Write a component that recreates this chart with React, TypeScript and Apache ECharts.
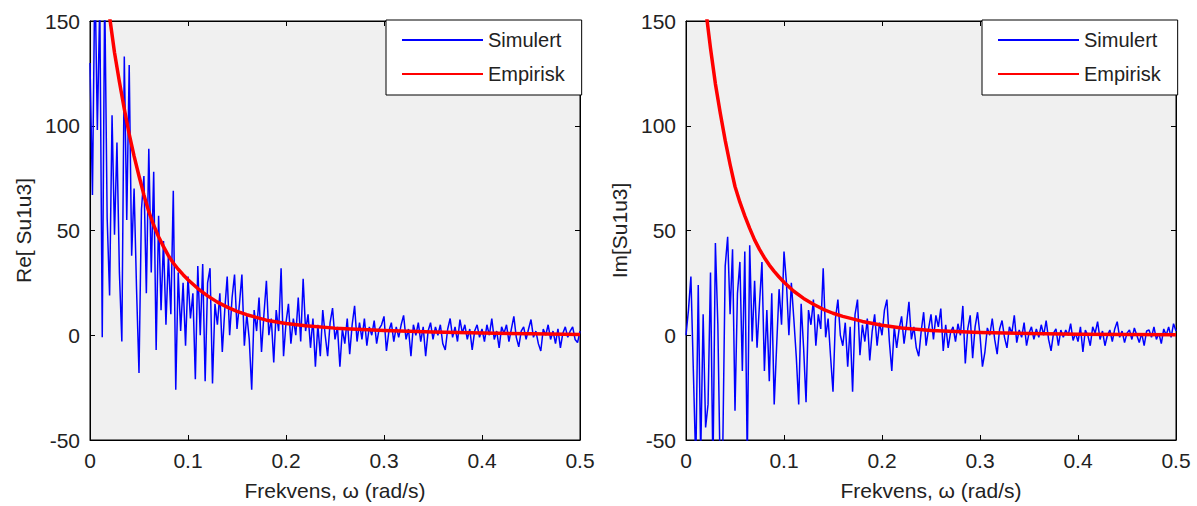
import React, { useEffect, useRef } from 'react';
import * as echarts from 'echarts';

const FONT = '"Liberation Sans", Arial, Helvetica, sans-serif';
const FREQ_STEP = 0.0025;
const seriesNames = ['Simulert', 'Empirisk'];
const yTitles = ['Re[ Su1u3]', 'Im[Su1u3]'];
const xTitle = 'Frekvens, ω (rad/s)';
const xTickLabels = ['0', '0.1', '0.2', '0.3', '0.4', '0.5'];

// Simulated spectrum, real part (sampled every 0.0025 rad/s)
const simRe = [
  130, 67, 175, 98, 160, -1, 165, 56, 19, 105,
  48, 92, 30, -3, 133, 55, 129, 38, 70, 22,
  -18, 60, 76, 20, 89, 30, 78, -7, 57, 12,
  45, 5, 38, 10, 69, -26, 30, 2, 25, -5,
  28, 8, 20, -21, 33, 0, 34, -22, 25, 32,
  -23, 15, 5, 20, -8, 12, 28, 0, 18, 29,
  3, 15, 29, -5, 10, -2, -26, 12, 2, 18,
  -8, 10, 26, 0, 8, -13, 12, 2, 32, -10,
  6, 15, -4, 8, 0, 18, -3, 27, 2, 10,
  -6, 8, -15, 5, -10, 12, 0, -10, 6, 13,
  -2, 4, -15, 3, -4, 8, -9, 5, 14, -3,
  6, -2, 8, -5, 4, 0, 7, -4, 3, 5,
  9, -7.5, 2, 6, -3, 4, -1, 5, 9.5, -2,
  3, -10, 5, 0, 6, -3, 4, -10, 2, 6,
  -2, 4, 0, 5, -4, -7, 3, 8, -1, 4,
  -3, 7.5, 1, 5, -2, 3, -7, 2, 5, -1,
  3, -3, 5, 0, 8, -2, 2, -6, 4, 1,
  5, -3, 3, 9, -1, -5.5, 2, 4, -2, 3,
  7.5, -1, 2, -4, -7.5, 3, 0, 5, -2, 2,
  -4, 3, -6, 1, 4, -1, 2, 4, -2, -3.5,
  2,
];

// Simulated spectrum, imaginary part (sampled every 0.0025 rad/s)
const simIm = [
  0, 12, 28, -17, -62, 24, -58, 10, -44, -33,
  30, -65, 44, 5, -70, -55, 33, 47, 10, 41,
  -36, 20, 35, -17, 40, -60, 43, -3, 26, -6,
  15, 35, -17, 12, -22, 20, -33, -5, 22, 5,
  40, 25, 0, 25, 8, -10, -33, 15, -6, -32,
  12, 5, 17, -5, 10, 3, 32, -1, 8, -10,
  -27, 8, 17, 0, -5, 6, -15, 4, -27, 10,
  17, -9.5, 5, -3, 8, -12, 2, 10, -5, 6,
  0, 12, 17, -3, -17, 4, -6, 3, 9, -4,
  5, 16, -2, 4, -6, -10, 2, 11, -5, 3,
  10, -2, 9.5, 4, 12.7, -7.5, 5, -6, 1.5, 4,
  -3, 5.5, 0, 14, -13.5, 3, 9.5, -11, 4, 11,
  0, -15, -8, 3.5, 0, 8, -2, -9, 3, 7,
  -1, -6, 4, 1, 9.5, -3.5, 2.5, -1, 6, -5,
  1, 4, -2, 3, -1, 5, 0, 7, -2, -7.5,
  1, 3, -5, 2.5, -1, 2.5, 0, 5.5, -2.5, 1,
  -3, 4, -8, 2.5, 0, -5, 4, 1, 6.5, -2,
  2, -5, 0, 2.5, -3, 3, 6.5, -1, 2, -3.5,
  1, 2.5, -2, 3.5, 0, -3.5, 1, -5, 2, 2.5,
  -1, 4, -2, 1, -4, 3, 0, 4, -1, 5.5,
  2,
];

// Empirical model curves
const empFreq = [
  0.015, 0.02, 0.025, 0.03, 0.035, 0.04, 0.045, 0.05, 0.055, 0.06, 0.065, 0.07, 0.075, 0.08, 0.085, 0.09, 0.095, 0.1,
  0.11, 0.12, 0.13, 0.14, 0.15, 0.16, 0.18, 0.2, 0.22, 0.25, 0.3, 0.35, 0.4, 0.45, 0.5,
];
const empRe = [
  172, 152, 135, 121, 108, 96, 85.5, 76, 67, 59, 52.5, 47, 42.3, 38, 34.5, 31.5, 28.9, 26.5,
  22.3, 18.8, 15.8, 13.4, 11.4, 9.8, 7.2, 5.6, 4.5, 3.4, 2.3, 1.6, 1.1, 0.7, 0.4,
];
const empIm = [
  178, 156, 137, 120, 106, 93, 81.5, 71, 63.5, 57, 51, 45.5, 41, 37, 33.5, 30.5, 27.8, 25.3,
  21, 17.6, 14.8, 12.4, 10.5, 9.0, 6.6, 4.8, 3.5, 2.3, 1.3, 0.8, 0.5, 0.35, 0.25,
];

const simPairs = (vals: number[]) => vals.map((v, i) => [Number((i * FREQ_STEP).toFixed(4)), v]);
const empPairs = (vals: number[]) => vals.map((v, i) => [empFreq[i], v]);

const GRIDS = [
  { left: 90, legendLeft: 386 },
  { left: 686, legendLeft: 982 },
];

export default function App() {
  const ref = useRef<HTMLDivElement>(null);
  useEffect(() => {
    if (!ref.current) return;
    const chart = echarts.init(ref.current, undefined, { renderer: 'svg' });
    const labelStyle = { color: '#222', fontSize: 21, fontFamily: FONT };
    const tick = { inside: true, length: 5, lineStyle: { color: '#000', width: 1 } };
    const line = { show: true, onZero: false, lineStyle: { color: '#000', width: 1 } };

    const xAxis: any[] = [];
    const yAxis: any[] = [];
    GRIDS.forEach((g, gi) => {
      const xBase = {
        type: 'value', gridIndex: gi, min: 0, max: 0.5, interval: 0.1,
        axisLine: line, axisTick: tick, splitLine: { show: false },
      };
      xAxis.push({
        ...xBase, position: 'bottom',
        axisLabel: { ...labelStyle, margin: 10, formatter: (v: number) => xTickLabels[Math.round(v * 10)] },
        name: xTitle, nameLocation: 'middle', nameGap: 40,
        nameTextStyle: { ...labelStyle },
      });
      xAxis.push({ ...xBase, position: 'top', axisLabel: { show: false } });
      const yBase = {
        type: 'value', gridIndex: gi, min: -50, max: 150, interval: 50,
        axisLine: line, axisTick: tick, splitLine: { show: false },
      };
      yAxis.push({
        ...yBase, position: 'left',
        axisLabel: { ...labelStyle, margin: 10 },
        name: yTitles[gi], nameLocation: 'middle', nameGap: 56,
        nameTextStyle: { ...labelStyle },
      });
      yAxis.push({ ...yBase, position: 'right', axisLabel: { show: false } });
    });

    const sims = [simRe, simIm];
    const emps = [empRe, empIm];
    const series: any[] = [];
    GRIDS.forEach((g, gi) => {
      series.push({
        name: seriesNames[0], type: 'line', xAxisIndex: gi * 2, yAxisIndex: gi * 2,
        data: simPairs(sims[gi]), symbol: 'none', showSymbol: false, clip: true,
        lineStyle: { color: '#0000ff', width: 1.5 }, itemStyle: { color: '#0000ff' },
        z: 2,
      });
      series.push({
        name: seriesNames[1], type: 'line', xAxisIndex: gi * 2, yAxisIndex: gi * 2,
        data: empPairs(emps[gi]), symbol: 'none', showSymbol: false, clip: true,
        lineStyle: { color: '#ff0000', width: 3.5, join: 'round' }, itemStyle: { color: '#ff0000' },
        z: 3,
      });
    });

    chart.setOption({
      animation: false,
      backgroundColor: '#ffffff',
      grid: GRIDS.map((g) => ({
        left: g.left, top: 21, width: 490, height: 420,
        show: true, backgroundColor: '#f0f0f0', borderColor: '#000', borderWidth: 1,
        containLabel: false,
      })),
      legend: GRIDS.map((g) => ({
        left: g.legendLeft, top: 20, orient: 'vertical',
        data: seriesNames, selectedMode: false,
        itemWidth: 81, itemHeight: 2, itemGap: 14,
        padding: [10, 17, 11, 15],
        backgroundColor: '#ffffff', borderColor: '#000', borderWidth: 1,
        textStyle: { color: '#222', fontSize: 20, fontFamily: FONT },
      })),
      xAxis, yAxis, series,
    });
    return () => chart.dispose();
  }, []);
  return <div ref={ref} style={{ position: 'absolute', left: 0, top: 0, width: 1197, height: 506 }} />;
}
